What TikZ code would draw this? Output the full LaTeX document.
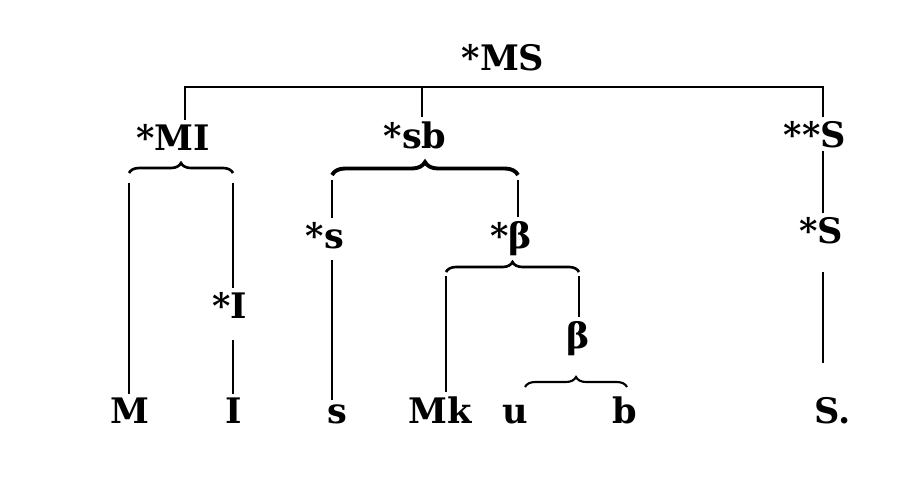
\documentclass[tikz,border=0pt]{standalone}
\usepackage{fontspec}
\setmainfont{DejaVu Serif}
\usetikzlibrary{decorations.pathreplacing}

\begin{document}
\begin{tikzpicture}[every node/.style={font=\fontsize{20}{24}\selectfont\bfseries, anchor=base, inner sep=2pt},
  brc/.style={decorate, decoration={brace, amplitude=#1}, line width=1.5pt}, brc/.default=0.2cm,
  ln/.style={line width=0.9pt}]
\useasboundingbox (0,0) rectangle (18.46,-9.86);
% labels
\node (MS) at (10.06,-1.40) {*MS};
\node (MI) at (3.46,-3.00) {*MI};
\node (sb) at (8.30,-2.96) {*sb};
\node (SS) at (16.30,-2.94) {**S};
\node (ss) at (6.50,-4.96) {*s};
\node (sbeta) at (10.22,-4.96) {*β};
\node (sS) at (16.42,-4.86) {*S};
\node (sI) at (4.60,-6.36) {*I};
\node (beta) at (11.56,-6.96) {β};
\node (M) at (2.60,-8.46) {M};
\node (I) at (4.68,-8.46) {I};
\node (s) at (6.74,-8.46) {s};
\node (Mk) at (8.80,-8.46) {Mk};
\node (u) at (10.30,-8.46) {u};
\node (b) at (12.50,-8.46) {b};
\node (Sd) at (16.66,-8.46) {S.};
% top bracket
\coordinate (msl) at (3.70,-1.74);
\coordinate (msm) at (8.44,-1.74);
\coordinate (msr) at (16.46,-1.74);
\draw[line width=0.8pt] (msl |- MI.north) -- (msl) -- (msr) -- (msr |- SS.north);
\draw[line width=0.8pt] (msm) -- (msm |- sb.north);
% *MI
\coordinate (mil) at (2.58,-3.46);
\coordinate (mir) at (4.66,-3.46);
\draw[brc] (mil) -- (mir);
\draw[ln] ([yshift=-0.2cm]mil) -- (mil |- M.north);
\draw[ln] ([yshift=-0.2cm]mir) -- (mir |- sI.north);
\draw[ln, shorten <=0.36cm] (sI.south -| mir) -- (mir |- I.north);
% *sb
\coordinate (sbl) at (6.64,-3.50);
\coordinate (sbr) at (10.36,-3.50);
\draw[brc=0.26cm, line width=2.2pt] (sbl) -- (sbr);
\draw[ln] ([yshift=-0.1cm]sbl) -- (sbl |- ss.north);
\draw[ln] ([yshift=-0.1cm]sbr) -- (sbr |- sbeta.north);
\draw[ln, shorten <=0.16cm] (ss.south -| sbl) -- (sbl |- s.north);
% *beta
\coordinate (bel) at (8.92,-5.44);
\coordinate (ber) at (11.58,-5.44);
\draw[brc] (bel) -- (ber);
\draw[ln] ([yshift=-0.08cm]bel) -- (bel |- Mk.north);
\draw[ln] ([yshift=-0.08cm]ber) -- (ber |- beta.north);
% beta
\coordinate (ubl) at (10.50,-7.74);
\coordinate (ubr) at (12.54,-7.74);
\draw[brc, line width=1.2pt] (ubl) -- (ubr);
% S
\draw[ln] (SS.south -| msr) -- (msr |- sS.north);
\draw[ln, shorten <=0.5cm, shorten >=0.6cm] (sS.south -| msr) -- (msr |- Sd.north);
\end{tikzpicture}
\end{document}
